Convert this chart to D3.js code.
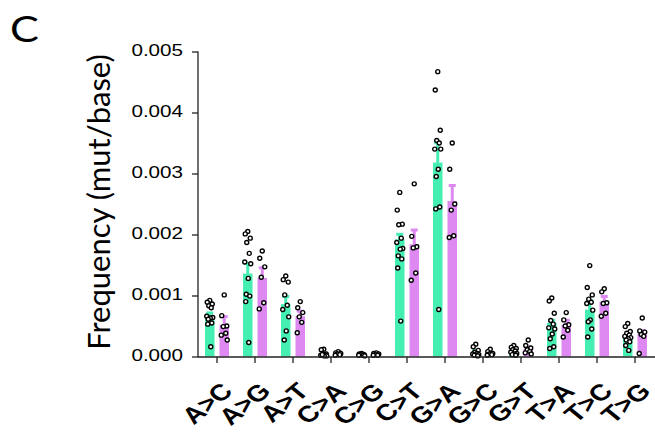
<!DOCTYPE html>
<html><head><meta charset="utf-8">
<script src="https://cdn.jsdelivr.net/npm/d3@7"></script>
<style>body{margin:0;background:#fff}</style>
</head><body>
<svg id="c" width="655" height="433"></svg>
<script>
const categories = ["A>C","A>G","A>T","C>A","C>G","C>T","G>A","G>C","G>T","T>A","T>C","T>G"];
const seriesNames = ["group1","group2"];
const colors = ["#45efb2","#de88f2"];
const yTicks = [0, 0.001, 0.002, 0.003, 0.004, 0.005];
const meanGreen = [0.00065,0.00136,0.00086,0.00005,0.00004,0.00192,0.00318,0.00008,0.00009,0.00055,0.00077,0.00031];
const semGreen  = [0.00008,0.00018,0.00014,0.00002,0.00001,0.00010,0.00034,0.00003,0.00003,0.00006,0.00016,0.00006];
const meanPurple = [0.00052,0.00129,0.00066,0.00007,0.00005,0.00184,0.00255,0.00005,0.00012,0.00052,0.00090,0.00038];
const semPurple  = [0.00015,0.00018,0.00010,0.00002,0.00001,0.00025,0.00027,0.00002,0.00005,0.00009,0.00010,0.00006];
const ptsGreen = [
 [0.00092,0.00089,0.00086,0.00083,0.0008,0.00066,0.00064,0.00063,0.00061,0.00055,0.00053,0.00016],
 [0.00205,0.00201,0.00194,0.00187,0.00169,0.00155,0.00152,0.00128,0.00102,0.00099,0.0009,0.00023],
 [0.00132,0.00126,0.00122,0.00101,0.00084,0.00077,0.00065,0.00042,0.00027],
 [0.00012,0.00011,0.00004,0.00003,0.00002,0.00002,0.00001,0.00001,0.00003],
 [0.00005,0.00004,0.00003,0.00003,0.00002,0.00002,0.00001],
 [0.00269,0.0024,0.00217,0.00216,0.00194,0.00187,0.00177,0.00176,0.00165,0.0016,0.00145,0.00058],
 [0.00467,0.00437,0.00371,0.00354,0.0035,0.0034,0.0034,0.00307,0.00295,0.00245,0.00242,0.00077],
 [0.0002,0.00016,0.0001,0.00007,0.00005,0.00004,0.00003,0.00002,0.00002,0.00001],
 [0.00018,0.00015,0.00013,0.00011,0.00009,0.00007,0.00005,0.00004,0.00003,0.00002],
 [0.00096,0.00091,0.00071,0.00059,0.00053,0.00047,0.00045,0.00037,0.00029,0.00016,0.00013],
 [0.00149,0.00113,0.00101,0.00094,0.00089,0.00087,0.00076,0.0006,0.00057,0.00045,0.00032],
 [0.00054,0.00049,0.00041,0.00038,0.00035,0.00033,0.00031,0.00029,0.00027,0.00024,0.00018,0.0001]
];
const ptsPurple = [
 [0.00101,0.00067,0.0005,0.00049,0.00038,0.00035,0.00027],
 [0.00173,0.00161,0.00147,0.0013,0.00088,0.00078],
 [0.0009,0.0008,0.00072,0.00065,0.00056,0.00039],
 [0.00008,0.00006,0.00005,0.00004,0.00003,0.00002],
 [0.00006,0.00005,0.00004,0.00003,0.00002,0.00002],
 [0.00283,0.00197,0.0018,0.00178,0.00137,0.00125],
 [0.0035,0.00307,0.0025,0.0024,0.00198,0.00195],
 [0.00012,0.00008,0.00005,0.00004,0.00003,0.00002],
 [0.00027,0.00018,0.00014,0.00011,0.00008,0.00006,0.00004],
 [0.00072,0.0006,0.00052,0.0005,0.00043,0.00032],
 [0.00111,0.00106,0.00088,0.00087,0.00071,0.00066],
 [0.00063,0.00042,0.0004,0.00036,0.00033,0.00005]
];
const jitter = [0,-2.5,2.5,-1,1.5,-3,3,0.5,-1.5,2,-2,1];

const svg = d3.select("#c");
const x = d3.scaleBand().domain(categories).range([198, 654]).paddingInner(0).paddingOuter(0);
const xs = d3.scaleBand().domain(seriesNames).range([-12, 12]).paddingInner(0.345).paddingOuter(0);
const y = d3.scaleLinear().domain([0, 0.005]).range([356.5, 51.5]);

const series = [
  {name: seriesNames[0], mean: meanGreen, sem: semGreen, pts: ptsGreen, color: colors[0]},
  {name: seriesNames[1], mean: meanPurple, sem: semPurple, pts: ptsPurple, color: colors[1]}
];

const plot = svg.append("g");
series.forEach(s => {
  categories.forEach((c, i) => {
    const cx = x(c) + x.bandwidth()/2 + xs(s.name);
    const bw = xs.bandwidth();
    const top = y(s.mean[i]);
    plot.append("rect").attr("x", cx).attr("y", top).attr("width", bw)
      .attr("height", y(0) - top).attr("fill", s.color);
    const e = y(s.mean[i] + s.sem[i]);
    plot.append("line").attr("x1", cx + bw/2).attr("x2", cx + bw/2).attr("y1", top).attr("y2", e)
      .attr("stroke", "#fff").attr("stroke-width", 5);
    plot.append("line").attr("x1", cx + bw/2).attr("x2", cx + bw/2).attr("y1", top + 1).attr("y2", e)
      .attr("stroke", s.color).attr("stroke-width", 3);
    plot.append("line").attr("x1", cx + bw/2 - 3.5).attr("x2", cx + bw/2 + 3.5).attr("y1", e + 1).attr("y2", e + 1)
      .attr("stroke", s.color).attr("stroke-width", 3);
  });
});
series.forEach(s => {
  categories.forEach((c, i) => {
    const cx = x(c) + x.bandwidth()/2 + xs(s.name) + xs.bandwidth()/2;
    s.pts[i].forEach((v, j) => {
      plot.append("circle").attr("cx", cx + jitter[j % jitter.length]).attr("cy", y(v))
        .attr("r", 2).attr("fill", "#fff").attr("stroke", "#000").attr("stroke-width", 1.4);
    });
  });
});

// y axis
const yAxis = svg.append("g").attr("transform", "translate(198,0)")
  .call(d3.axisLeft(y).tickValues(yTicks).tickFormat(d3.format(".3f")).tickSize(6).tickPadding(4));
yAxis.select(".domain").attr("stroke", "#222").attr("stroke-width", 1.3).attr("d", "M0,51.5V357");
yAxis.selectAll(".tick line").attr("stroke", "#222").attr("stroke-width", 1.3);
yAxis.selectAll(".tick text").attr("font-family", "Liberation Sans, Arial, sans-serif")
  .attr("font-size", 16.5).attr("fill", "#000")
  .attr("transform", "translate(-15,-2) scale(1.25,1)").attr("x", 0).attr("text-anchor", "end").attr("dy", "0.36em");

// x axis
const xAxis = svg.append("g").attr("transform", "translate(0,357)")
  .call(d3.axisBottom(x).tickSize(6).tickFormat(""));
xAxis.select(".domain").attr("stroke", "#222").attr("stroke-width", 1.3).attr("d", "M198,0H655");
xAxis.selectAll(".tick line").attr("stroke", "#222").attr("stroke-width", 1.3);
xAxis.selectAll(".tick").append("text")
  .attr("font-family", "Liberation Sans, Arial, sans-serif").attr("font-weight", "bold")
  .attr("font-size", 23).attr("fill", "#000").attr("text-anchor", "end")
  .attr("transform", "translate(3,24) scale(1.22,1) rotate(-45)").attr("dy", "0.71em")
  .text(d => d);

// y label
svg.append("text").attr("transform", "translate(110,202) rotate(-90)")
  .attr("text-anchor", "middle").attr("font-family", "Lato, Open Sans, sans-serif")
  .attr("font-size", 31).attr("fill", "#000").text("Frequency (mut/base)");

svg.append("text").attr("x", 10).attr("y", 42).attr("font-family", "Lato, Open Sans, sans-serif")
  .attr("font-size", 36).attr("fill", "#000").attr("transform", "translate(-2,0) scale(1.2,1)").text("C");
</script>
</body></html>
